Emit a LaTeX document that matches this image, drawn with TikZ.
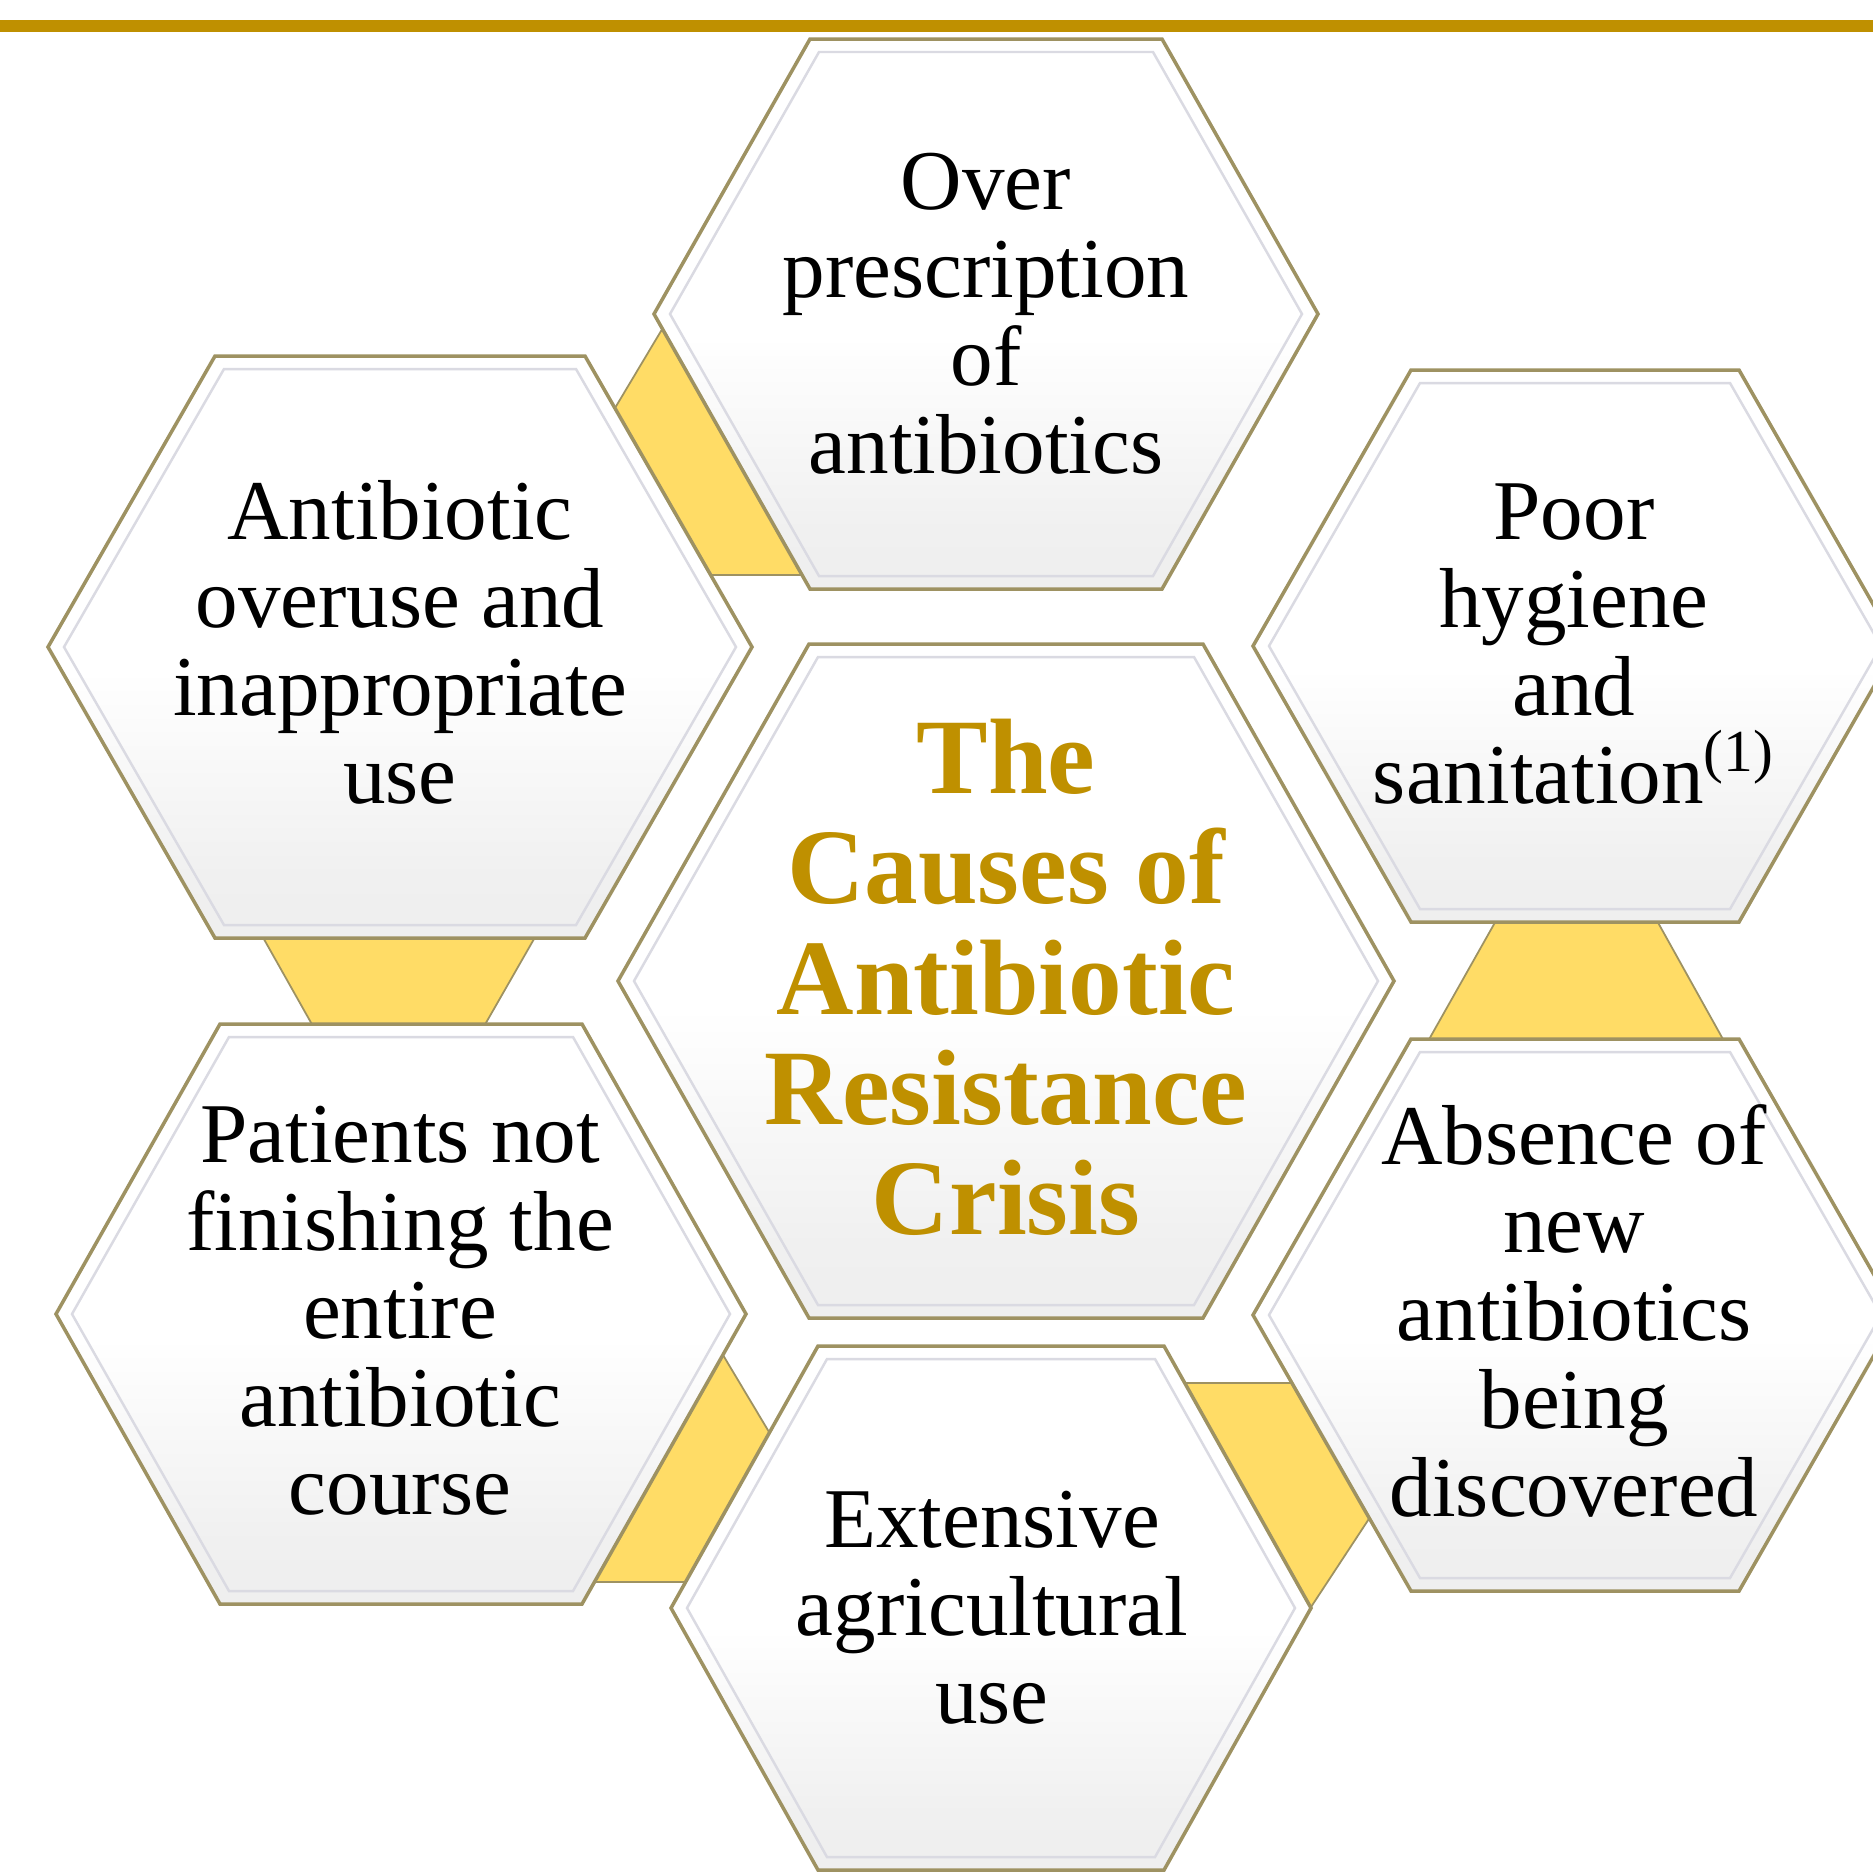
\documentclass[tikz,border=0pt]{standalone}
\usepackage{fontspec}
\setmainfont{Liberation Serif}
\definecolor{crisisgold}{RGB}{191,144,0}
\definecolor{linkyellow}{RGB}{255,220,102}
\definecolor{hexrim}{RGB}{158,146,98}
\definecolor{hexbevel}{RGB}{218,218,226}
\pgfdeclareverticalshading{hexfill}{100bp}{color(0bp)=(black!8); color(30bp)=(black!6); color(48bp)=(white); color(100bp)=(white)}

\tikzset{
  hexbody/.style={draw=hexrim,line width=1pt,shading=hexfill},
  hexedge/.style={draw=hexbevel,line width=0.7pt},
  link/.style={fill=linkyellow,draw=hexrim,line width=0.5pt},
  cause/.style={align=center,inner sep=0pt,font=\fontsize{24.2}{25}\selectfont},
  title/.style={align=center,inner sep=0pt,text=crisisgold,font=\bfseries\fontsize{30.5}{31.4}\selectfont}
}

% hex cell: centre x, centre y, half width, half top edge, half height
\newcommand{\hexcell}[5]{%
  \draw[hexbody] (#1-#3,#2) -- (#1-#4,#2-#5) -- (#1+#4,#2-#5) -- (#1+#3,#2)
    -- (#1+#4,#2+#5) -- (#1-#4,#2+#5) -- cycle;
  \draw[hexedge] (#1-#3+16,#2) -- (#1-#4+9,#2-#5+13) -- (#1+#4-9,#2-#5+13) -- (#1+#3-16,#2)
    -- (#1+#4-9,#2+#5-13) -- (#1-#4+9,#2+#5-13) -- cycle;
}

\begin{document}
\begin{tikzpicture}[x=0.01cm,y=-0.01cm]
\clip (0,0) rectangle (1873,1871);
\fill[white] (0,0) rectangle (1873,1871);
\fill[crisisgold] (0,20) rectangle (1873,32);

% yellow links behind the cells
\draw[link] (661,331) -- (612,413) -- (700,575) -- (830,575) -- (700,333) -- cycle;
\draw[link] (256,925) -- (542,925) -- (479,1035) -- (318,1035) -- cycle;
\draw[link] (1502,910) -- (1651,910) -- (1729,1050) -- (1423,1050) -- cycle;
\draw[link] (723,1355) -- (784,1457) -- (700,1582) -- (585,1582) -- cycle;
\draw[link] (1175,1383) -- (1310,1383) -- (1378,1505) -- (1311,1607) -- (1290,1607) -- cycle;

% cells
\hexcell{986}{314}{332}{176}{275}
\hexcell{400}{647}{352}{185}{291}
\hexcell{1575}{646}{322}{164}{276}
\hexcell{1006}{981}{388}{197}{337}
\hexcell{401}{1314}{345}{181}{290}
\hexcell{1575}{1315}{322}{164}{276}
\hexcell{991}{1608}{320}{173}{262}

% texts
\node[cause] (prescription) at (986,324) {\strut Over\\prescription\\of\\antibiotics\strut};
\node[cause] (overuse) at (400,654) {\strut Antibiotic\\overuse and\\inappropriate\\use\strut};
\node[cause] (hygiene) at (1574,654) {\strut Poor\\hygiene\\and\\sanitation\textsuperscript{(1)}\strut};
\node[title] (crisis) at (1006,992) {\strut The\\Causes of\\Antibiotic\\Resistance\\Crisis\strut};
\node[cause] (unfinished) at (400,1321) {\strut Patients not\\finishing the\\entire\\antibiotic\\course\strut};
\node[cause] (discovery) at (1574,1323) {\strut Absence of\\new\\antibiotics\\being\\discovered\strut};
\node[cause] (agriculture) at (992,1618) {\strut Extensive\\agricultural\\use\strut};
\end{tikzpicture}
\end{document}
